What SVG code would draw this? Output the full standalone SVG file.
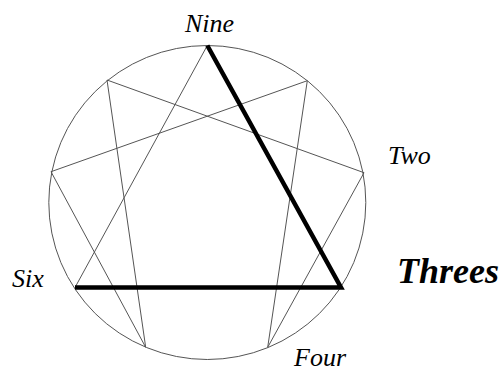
<svg xmlns="http://www.w3.org/2000/svg" width="502" height="367" viewBox="0 0 502 367">
<style>
.thin{fill:none;stroke:#555;stroke-width:1}
.thick{fill:none;stroke:#000;stroke-width:4.5;stroke-linecap:butt;stroke-linejoin:miter}
text{font-family:'Liberation Serif','Times New Roman',Times,serif;font-style:italic;fill:#000}
.lbl{font-size:26px}
.big{font-weight:bold;font-size:36px}
</style>
<rect width="502" height="367" fill="#fff"/>
<g id="circle"><ellipse class="thin" cx="207.3" cy="202.5" rx="158.5" ry="157"/></g>
<g id="connectors">
<polyline class="thin" points="307.3,80.7 267.7,347.3 364,172.7 107,80 145.7,347.3 51,171.7 307.3,80.7"/>
<line class="thin" x1="207.3" y1="45.5" x2="75" y2="287.5"/>
<polyline class="thick" points="207.3,45.5 341,287.5 75,287.5"/>
</g>
<g id="nine"><text class="lbl" x="185" y="31.7">Nine</text></g>
<g id="two"><text class="lbl" x="388" y="163.5">Two</text></g>
<g id="six"><text class="lbl" x="12" y="287">Six</text></g>
<g id="four"><text class="lbl" x="294" y="366">Four</text></g>
<g id="threes"><text class="big" x="397" y="283">Threes</text></g>
</svg>
